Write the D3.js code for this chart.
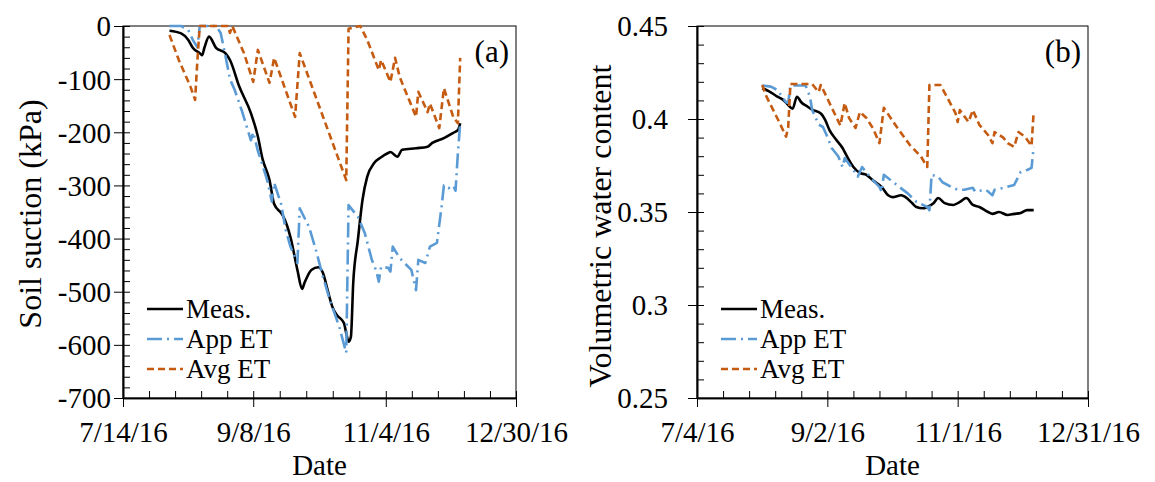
<!DOCTYPE html>
<html>
<head>
<meta charset="utf-8">
<script src="https://cdn.jsdelivr.net/npm/d3@7"></script>
<style>
  body { margin: 0; background: #fff; }
  svg { display: block; font-family: "Liberation Serif", "Times New Roman", serif; }
  svg text { font-family: "Liberation Serif", "Times New Roman", serif; }
</style>
</head>
<body>
<div id="chart"></div>
<script>
// ---- data ----
const leftDateTicks = ['7/14/16', '9/8/16', '11/4/16', '12/30/16']
const rightDateTicks = ['7/4/16', '9/2/16', '11/1/16', '12/31/16']
const suctionTicks = [0, -100, -200, -300, -400, -500, -600, -700]
const vwcTicks = [0.45, 0.4, 0.35, 0.3, 0.25]
const seriesNames = ['Meas.', 'App ET', 'Avg ET']

const suctionMeas = [
  ['8/3/16', -9], ['8/8/16', -14], ['8/11/16', -26], ['8/13/16', -41], ['8/16/16', -51],
  ['8/17/16', -55], ['8/18/16', -41], ['8/20/16', -20], ['8/23/16', -41], ['8/27/16', -51],
  ['8/29/16', -64], ['9/2/16', -114], ['9/7/16', -164], ['9/10/16', -208], ['9/12/16', -250],
  ['9/15/16', -290], ['9/17/16', -335], ['9/20/16', -352], ['9/21/16', -359], ['9/24/16', -397],
  ['9/27/16', -459], ['9/29/16', -495], ['9/30/16', -484], ['10/3/16', -459], ['10/6/16', -454],
  ['10/8/16', -465], ['10/10/16', -497], ['10/12/16', -528], ['10/14/16', -544], ['10/17/16', -559],
  ['10/18/16', -578], ['10/19/16', -594], ['10/20/16', -585], ['10/21/16', -484], ['10/23/16', -403],
  ['10/25/16', -327], ['10/27/16', -284], ['10/30/16', -258], ['11/2/16', -247], ['11/5/16', -239],
  ['11/6/16', -237], ['11/9/16', -246], ['11/11/16', -233], ['11/17/16', -230], ['11/22/16', -227],
  ['11/24/16', -220], ['11/29/16', -211], ['12/3/16', -201], ['12/5/16', -196], ['12/6/16', -183]
]
const suctionApp = [
  ['8/3/16', 0], ['8/8/16', 0], ['8/11/16', -7], ['8/13/16', -26], ['8/15/16', -40],
  ['8/16/16', 0], ['8/23/16', 0], ['8/25/16', -13], ['8/27/16', -55], ['8/29/16', -100],
  ['8/31/16', -120], ['9/3/16', -158], ['9/7/16', -215], ['9/8/16', -200], ['9/10/16', -235],
  ['9/12/16', -262], ['9/14/16', -290], ['9/16/16', -330], ['9/17/16', -295], ['9/20/16', -335],
  ['9/22/16', -384], ['9/24/16', -415], ['9/27/16', -446], ['9/28/16', -343], ['10/2/16', -378],
  ['10/5/16', -422], ['10/8/16', -472], ['10/11/16', -516], ['10/15/16', -566], ['10/18/16', -615],
  ['10/19/16', -337], ['10/23/16', -359], ['10/26/16', -390], ['10/29/16', -440], ['10/31/16', -462],
  ['11/1/16', -481], ['11/2/16', -453], ['11/5/16', -455], ['11/6/16', -462], ['11/7/16', -415],
  ['11/10/16', -437], ['11/15/16', -459], ['11/17/16', -497], ['11/18/16', -440], ['11/21/16', -446],
  ['11/23/16', -415], ['11/26/16', -408], ['11/28/16', -340], ['11/29/16', -300], ['12/1/16', -305],
  ['12/3/16', -300], ['12/4/16', -310], ['12/5/16', -240], ['12/6/16', -183]
]
const suctionAvg = [
  ['8/3/16', -17], ['8/7/16', -64], ['8/12/16', -114], ['8/14/16', -139], ['8/15/16', -64],
  ['8/16/16', 0], ['8/28/16', 0], ['8/29/16', -13], ['8/30/16', 0], ['9/4/16', -51],
  ['9/8/16', -105], ['9/10/16', -45], ['9/15/16', -107], ['9/17/16', -60], ['9/26/16', -171],
  ['9/28/16', -51], ['10/18/16', -290], ['10/19/16', -5], ['10/24/16', 0], ['10/27/16', -26],
  ['11/1/16', -83], ['11/2/16', -64], ['11/6/16', -105], ['11/8/16', -60], ['11/10/16', -96],
  ['11/17/16', -171], ['11/18/16', -124], ['11/22/16', -162], ['11/23/16', -146], ['11/27/16', -192],
  ['11/29/16', -117], ['12/3/16', -171], ['12/5/16', -183], ['12/6/16', -60]
]

const vwcMeas = [
  ['8/3/16', 0.4165], ['8/6/16', 0.415], ['8/10/16', 0.412], ['8/13/16', 0.410], ['8/15/16', 0.4075],
  ['8/17/16', 0.4055], ['8/19/16', 0.412], ['8/21/16', 0.409], ['8/24/16', 0.4066], ['8/26/16', 0.405],
  ['8/30/16', 0.403], ['9/1/16', 0.3995], ['9/3/16', 0.394], ['9/6/16', 0.389], ['9/9/16', 0.3844],
  ['9/11/16', 0.380], ['9/14/16', 0.3742], ['9/17/16', 0.371], ['9/20/16', 0.370], ['9/23/16', 0.367],
  ['9/27/16', 0.3635], ['9/30/16', 0.359], ['10/2/16', 0.358], ['10/6/16', 0.359], ['10/8/16', 0.358],
  ['10/11/16', 0.3548], ['10/13/16', 0.3527], ['10/16/16', 0.352], ['10/18/16', 0.3527], ['10/21/16', 0.3548],
  ['10/23/16', 0.3575], ['10/26/16', 0.3548], ['10/30/16', 0.3538], ['11/2/16', 0.3554], ['11/5/16', 0.3575],
  ['11/8/16', 0.3538], ['11/11/16', 0.3527], ['11/15/16', 0.350], ['11/17/16', 0.349], ['11/20/16', 0.350],
  ['11/24/16', 0.3484], ['11/27/16', 0.349], ['11/30/16', 0.3495], ['12/3/16', 0.351], ['12/6/16', 0.351]
]
const vwcApp = [
  ['8/3/16', 0.418], ['8/7/16', 0.4174], ['8/10/16', 0.4156], ['8/11/16', 0.414], ['8/14/16', 0.409],
  ['8/15/16', 0.4086], ['8/16/16', 0.418], ['8/23/16', 0.418], ['8/25/16', 0.412], ['8/26/16', 0.405],
  ['8/29/16', 0.397], ['8/31/16', 0.3957], ['9/2/16', 0.3905], ['9/4/16', 0.3844], ['9/7/16', 0.380],
  ['9/9/16', 0.3742], ['9/10/16', 0.379], ['9/14/16', 0.3726], ['9/16/16', 0.369], ['9/18/16', 0.3742],
  ['9/23/16', 0.367], ['9/26/16', 0.3635], ['9/27/16', 0.3608], ['9/28/16', 0.370], ['10/4/16', 0.3645],
  ['10/9/16', 0.360], ['10/13/16', 0.3555], ['10/18/16', 0.3527], ['10/19/16', 0.351], ['10/20/16', 0.370],
  ['10/23/16', 0.369], ['10/25/16', 0.366], ['10/29/16', 0.3635], ['11/1/16', 0.362], ['11/4/16', 0.362],
  ['11/8/16', 0.363], ['11/9/16', 0.361], ['11/14/16', 0.362], ['11/17/16', 0.359], ['11/18/16', 0.362],
  ['11/22/16', 0.363], ['11/27/16', 0.3645], ['11/30/16', 0.3715], ['12/3/16', 0.3726], ['12/5/16', 0.3737],
  ['12/6/16', 0.385]
]
const vwcAvg = [
  ['8/3/16', 0.4183], ['8/5/16', 0.412], ['8/8/16', 0.405], ['8/11/16', 0.398], ['8/14/16', 0.3905],
  ['8/15/16', 0.3957], ['8/16/16', 0.4188], ['8/26/16', 0.4188], ['8/29/16', 0.4145], ['8/30/16', 0.4183],
  ['9/8/16', 0.3965], ['9/10/16', 0.4086], ['9/12/16', 0.4005], ['9/15/16', 0.3952], ['9/17/16', 0.4038],
  ['9/20/16', 0.4005], ['9/23/16', 0.395], ['9/26/16', 0.387], ['9/28/16', 0.406], ['10/4/16', 0.3957],
  ['10/10/16', 0.386], ['10/15/16', 0.380], ['10/18/16', 0.3742], ['10/19/16', 0.4183], ['10/24/16', 0.4183],
  ['10/27/16', 0.412], ['10/31/16', 0.4032], ['11/1/16', 0.3984], ['11/2/16', 0.4048], ['11/6/16', 0.3984],
  ['11/8/16', 0.4048], ['11/11/16', 0.3968], ['11/15/16', 0.3914], ['11/17/16', 0.387], ['11/18/16', 0.393],
  ['11/22/16', 0.390], ['11/24/16', 0.387], ['11/27/16', 0.385], ['11/29/16', 0.393], ['12/2/16', 0.3904],
  ['12/5/16', 0.3855], ['12/6/16', 0.404]
]

// ---- drawing ----
const svgW = 1155, svgH = 482
const plotTop = 26, plotBottom = 398
const serif = '"Liberation Serif", "Times New Roman", serif'
const parse = d3.timeParse('%m/%d/%y')
const fmt = d3.timeFormat('%-m/%-d/%y')

const styles = [
  { color: '#000000', w: 2.6, dash: null, curve: d3.curveMonotoneX },
  { color: '#5B9BD5', w: 2.6, dash: '15,5,2,5', curve: d3.curveLinear },
  { color: '#C55A11', w: 2.6, dash: '7,4', curve: d3.curveLinear }
]

const svg = d3.select('#chart').append('svg')
  .attr('width', svgW)
  .attr('height', svgH)
  .style('background', '#fff')

function drawPanel(p) {
  const g = svg.append('g')
  const majors = p.dateTicks.map(parse)
  const x = d3.scaleTime()
    .domain([majors[0], majors[majors.length - 1]])
    .range([p.left, p.right])
  const y = d3.scaleLinear()
    .domain(d3.extent(p.yTicks))
    .range([plotBottom, plotTop])

  // minor ticks: 5 divisions between majors
  const minorX = []
  for (let i = 0; i < majors.length - 1; i++) {
    const a = +majors[i], b = +majors[i + 1]
    for (let k = 1; k < 5; k++) minorX.push(new Date(a + (b - a) * k / 5))
  }
  const minorY = []
  const ys = p.yTicks.slice().sort((a, b) => a - b)
  for (let i = 0; i < ys.length - 1; i++) {
    for (let k = 1; k < 5; k++) minorY.push(ys[i] + (ys[i + 1] - ys[i]) * k / 5)
  }

  // frame
  g.append('rect')
    .attr('x', p.left).attr('y', plotTop)
    .attr('width', p.right - p.left).attr('height', plotBottom - plotTop)
    .attr('fill', 'none').attr('stroke', '#000').attr('stroke-width', 1)

  // inside ticks (major + minor)
  g.append('g').attr('transform', `translate(0,${plotBottom})`)
    .call(d3.axisBottom(x).tickValues(majors.concat(minorX)).tickSize(-7).tickSizeOuter(0).tickFormat(''))
  g.append('g').attr('transform', `translate(${p.left},0)`)
    .call(d3.axisLeft(y).tickValues(p.yTicks.concat(minorY)).tickSize(-7).tickSizeOuter(0).tickFormat(''))

  // outside major ticks with labels
  const xa = g.append('g').attr('transform', `translate(0,${plotBottom})`)
    .call(d3.axisBottom(x).tickValues(majors).tickSizeInner(9).tickSizeOuter(0).tickPadding(13).tickFormat(fmt))
  const ya = g.append('g').attr('transform', `translate(${p.left},0)`)
    .call(d3.axisLeft(y).tickValues(p.yTicks).tickSizeInner(9).tickSizeOuter(0).tickPadding(p.yPad).tickFormat(d => String(d)))

  g.selectAll('g').attr('font-family', null).attr('font-size', null)
  g.selectAll('.tick line').attr('stroke', '#000').attr('stroke-width', 1)
  g.selectAll('.domain').attr('stroke', '#000').attr('stroke-width', 1.6)
  g.selectAll('.tick text')
    .attr('fill', '#000')
    .style('font-family', serif)
    .style('font-size', '29px')
  xa.selectAll('.tick text').attr('dy', '0.75em')
  ya.selectAll('.tick text').attr('dy', '0.34em')

  // series
  p.series.forEach((s, i) => {
    const st = styles[i]
    const line = d3.line()
      .x(d => x(parse(d[0])))
      .y(d => y(d[1]))
      .curve(st.curve)
    g.append('path')
      .datum(s)
      .attr('d', line)
      .attr('fill', 'none')
      .attr('stroke', st.color)
      .attr('stroke-width', st.w)
      .attr('stroke-dasharray', st.dash)
      .attr('stroke-linejoin', 'round')
  })

  // legend
  seriesNames.forEach((name, i) => {
    const ly = 309 + i * 30
    g.append('line')
      .attr('x1', p.left + 24).attr('x2', p.left + 60)
      .attr('y1', ly).attr('y2', ly)
      .attr('stroke', styles[i].color)
      .attr('stroke-width', styles[i].w)
      .attr('stroke-dasharray', styles[i].dash)
    g.append('text')
      .attr('x', p.left + 63).attr('y', ly)
      .attr('dy', '0.35em')
      .style('font-size', '27px')
      .text(name)
  })

  // panel letter
  g.append('text')
    .attr('x', p.right - 7).attr('y', 51)
    .attr('dy', '0.35em')
    .attr('text-anchor', 'end')
    .style('font-size', '31px')
    .text(p.letter)

  // axis titles
  g.append('text')
    .attr('x', (p.left + p.right) / 2).attr('y', 465)
    .attr('dy', '0.35em')
    .attr('text-anchor', 'middle')
    .style('font-size', '29px')
    .text('Date')
  g.append('text')
    .attr('transform', `translate(${p.titleX},${p.titleY}) rotate(-90)`)
    .attr('text-anchor', 'middle')
    .attr('dy', '0.35em')
    .style('font-size', '32px')
    .text(p.yTitle)
}

drawPanel({
  left: 123, right: 516, dateTicks: leftDateTicks, yTicks: suctionTicks,
  series: [suctionMeas, suctionApp, suctionAvg], letter: '(a)', yPad: 3,
  yTitle: 'Soil suction (kPa)', titleX: 30, titleY: 214
})
drawPanel({
  left: 697, right: 1088, dateTicks: rightDateTicks, yTicks: vwcTicks,
  series: [vwcMeas, vwcApp, vwcAvg], letter: '(b)', yPad: 20,
  yTitle: 'Volumetric water content', titleX: 600, titleY: 226
})
</script>
</body>
</html>
